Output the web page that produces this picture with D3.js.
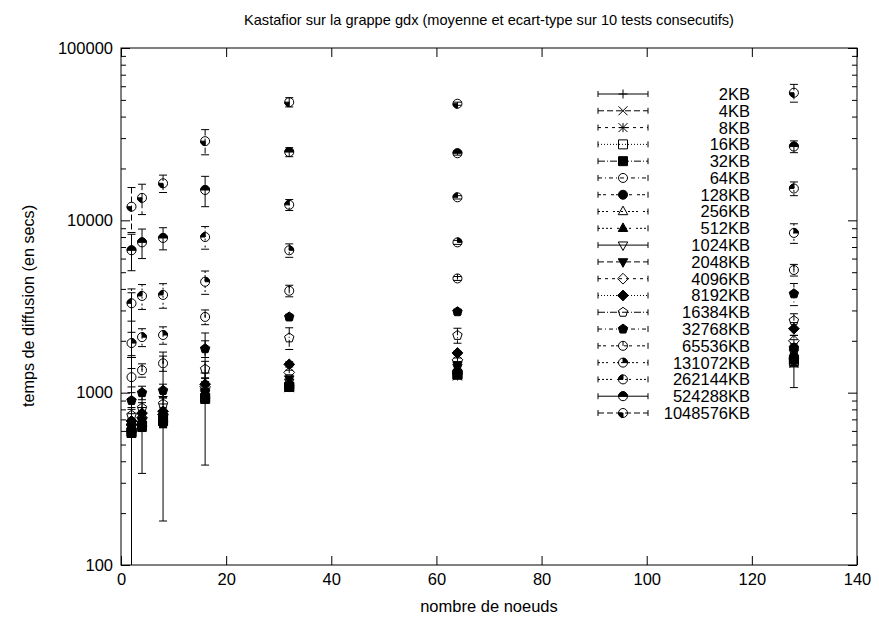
<!DOCTYPE html>
<html>
<head>
<meta charset="utf-8">
<script src="https://cdn.jsdelivr.net/npm/d3@7"></script>
<style>
  body { margin: 0; background: #fff; }
  svg { display: block; }
</style>
</head>
<body>
<svg width="879" height="617"></svg>
<script>
const FONT = "'Liberation Sans', Arial, Helvetica, sans-serif";

// Data
const nodes = [2, 4, 8, 16, 32, 64, 128];
const sizes = ["2KB", "4KB", "8KB", "16KB", "32KB", "64KB", "128KB", "256KB", "512KB",
  "1024KB", "2048KB", "4096KB", "8192KB", "16384KB", "32768KB", "65536KB",
  "131072KB", "262144KB", "524288KB", "1048576KB"];

// mean time per size (rows) and node count (columns)
const meanTimes = [
  [1600, 650, 950, 1300, 1080, 1250, 1550],
  [580, 630, 680, 920, 1070, 1250, 1480],
  [585, 635, 680, 920, 1070, 1260, 1500],
  [590, 640, 685, 930, 1080, 1270, 1520],
  [590, 645, 690, 930, 1080, 1280, 1560],
  [600, 650, 695, 940, 1100, 1300, 1600],
  [610, 660, 700, 950, 1100, 1320, 1820],
  [615, 665, 705, 960, 1110, 1330, 1620],
  [620, 670, 710, 970, 1120, 1350, 1650],
  [625, 680, 715, 985, 1150, 1400, 1700],
  [635, 690, 725, 1010, 1200, 1450, 1780],
  [650, 715, 745, 1080, 1310, 1550, 2000],
  [685, 760, 780, 1120, 1460, 1700, 2350],
  [740, 815, 860, 1370, 2080, 2150, 2620],
  [900, 1000, 1030, 1800, 2750, 2950, 3750],
  [1230, 1350, 1480, 2750, 3900, 4600, 5150],
  [1940, 2100, 2160, 4400, 6700, 7450, 8450],
  [3300, 3640, 3690, 8000, 12300, 13600, 15300],
  [6700, 7450, 7900, 15000, 24900, 24500, 26800],
  [12000, 13500, 16400, 28800, 48500, 47500, 55000]
];

// standard deviation, same layout
const stdTimes = [
  [2200, 310, 770, 920, 20, 20, 480],
  [30, 35, 50, 50, 25, 25, 70],
  [35, 40, 55, 55, 25, 30, 75],
  [35, 40, 55, 60, 30, 30, 80],
  [40, 45, 60, 60, 30, 30, 90],
  [40, 45, 60, 65, 30, 35, 90],
  [45, 45, 65, 65, 35, 35, 100],
  [45, 50, 65, 70, 35, 35, 100],
  [50, 50, 70, 70, 35, 40, 110],
  [50, 50, 70, 75, 40, 40, 110],
  [50, 50, 60, 70, 30, 30, 100],
  [60, 60, 70, 80, 40, 40, 150],
  [70, 60, 80, 90, 50, 40, 200],
  [80, 60, 70, 150, 300, 215, 250],
  [100, 90, 90, 200, 100, 100, 550],
  [150, 120, 150, 270, 300, 120, 400],
  [300, 250, 250, 680, 600, 200, 1100],
  [700, 600, 600, 1200, 900, 300, 1400],
  [1600, 1450, 1160, 3000, 1500, 600, 2100],
  [3500, 2700, 1900, 4800, 3000, 1000, 6500]
];

const xTicks = [0, 20, 40, 60, 80, 100, 120, 140];
const yTicks = [100, 1000, 10000, 100000];

const titleText = "Kastafior sur la grappe gdx (moyenne et ecart-type sur 10 tests consecutifs)";
const xLabel = "nombre de noeuds";
const yLabel = "temps de diffusion (en secs)";

// gnuplot-like dash cycle
const dashes = [null, "6,3", "3,4", "1,2", "7,2,1,2", "4,3,1,3", "3,2,3,5", "2,2,2,2,2,5", "2,2,2,2,2,2,2,5"];

const margin = { left: 121, right: 857, top: 48, bottom: 565 };

const svg = d3.select("svg").style("font-family", FONT);

const x = d3.scaleLinear().domain([0, 140]).range([margin.left, margin.right]);
const y = d3.scaleLog().domain([100, 100000]).range([margin.bottom, margin.top]);

const minorY = [];
for (let e = 100; e < 100000; e *= 10) for (let k = 2; k <= 9; k++) minorY.push(e * k);

// --- Axes ---
function styleAxis(g, size) {
  g.attr("font-family", FONT).attr("font-size", size);
  g.select(".domain").remove();
  g.selectAll("line").attr("stroke", "#000");
  g.selectAll("text").attr("fill", "#000");
}

svg.append("g")
  .attr("transform", `translate(0,${margin.bottom})`)
  .call(d3.axisBottom(x).tickValues(xTicks).tickSizeInner(-9).tickSizeOuter(0).tickPadding(8))
  .call(styleAxis, 16.5);

svg.append("g")
  .attr("transform", `translate(0,${margin.top})`)
  .call(d3.axisTop(x).tickValues(xTicks).tickSizeInner(-9).tickSizeOuter(0).tickFormat(""))
  .call(styleAxis, 16.5);

svg.append("g")
  .attr("transform", `translate(${margin.left},0)`)
  .call(d3.axisLeft(y).tickValues(yTicks).tickSizeInner(-9).tickSizeOuter(0).tickPadding(8).tickFormat(d3.format("d")))
  .call(styleAxis, 16.5);

svg.append("g")
  .attr("transform", `translate(${margin.left},0)`)
  .call(d3.axisLeft(y).tickValues(minorY).tickSizeInner(-5).tickSizeOuter(0).tickFormat(""))
  .call(styleAxis, 16.5);

svg.append("g")
  .attr("transform", `translate(${margin.right},0)`)
  .call(d3.axisRight(y).tickValues(yTicks).tickSizeInner(-9).tickSizeOuter(0).tickFormat(""))
  .call(styleAxis, 16.5);

svg.append("g")
  .attr("transform", `translate(${margin.right},0)`)
  .call(d3.axisRight(y).tickValues(minorY).tickSizeInner(-5).tickSizeOuter(0).tickFormat(""))
  .call(styleAxis, 16.5);

svg.append("rect")
  .attr("x", margin.left).attr("y", margin.top)
  .attr("width", margin.right - margin.left)
  .attr("height", margin.bottom - margin.top)
  .attr("fill", "none").attr("stroke", "#000").attr("stroke-width", 1);

// --- Titles ---
svg.append("text")
  .attr("x", 489).attr("y", 25)
  .attr("text-anchor", "middle").attr("font-size", 14.6)
  .text(titleText);

svg.append("text")
  .attr("x", 489).attr("y", 612)
  .attr("text-anchor", "middle").attr("font-size", 16.5)
  .text(xLabel);

svg.append("text")
  .attr("transform", "translate(34,306) rotate(-90)")
  .attr("text-anchor", "middle").attr("font-size", 16.2)
  .text(yLabel);

// --- Symbols (gnuplot point types 1..20) ---
function drawSymbol(g, t, r) {
  const k = t % 20;
  const line = (d) => g.append("path").attr("d", d).attr("fill", "none").attr("stroke", "#000").attr("stroke-width", 1);
  const fillP = (d) => g.append("path").attr("d", d).attr("fill", "#000").attr("stroke", "#000").attr("stroke-width", 1);
  const circle = `M${r},0A${r},${r} 0 1,1 ${-r},0A${r},${r} 0 1,1 ${r},0Z`;
  const box = `M${-r},${-r}H${r}V${r}H${-r}Z`;
  const tri = `M0,${-r * 1.2}L${r * 1.05},${r * 0.7}L${-r * 1.05},${r * 0.7}Z`;
  const triD = `M0,${r * 1.2}L${r * 1.05},${-r * 0.7}L${-r * 1.05},${-r * 0.7}Z`;
  const dia = `M0,${-r * 1.2}L${r * 1.2},0L0,${r * 1.2}L${-r * 1.2},0Z`;
  const pent = d3.range(5).map((i) => {
    const a = -Math.PI / 2 + i * 2 * Math.PI / 5;
    return [Math.cos(a) * r * 1.1, Math.sin(a) * r * 1.1];
  });
  const pentP = "M" + pent.map((p) => p.join(",")).join("L") + "Z";
  const wedge = (a0, a1) => d3.arc().innerRadius(0).outerRadius(r)({ startAngle: a0, endAngle: a1 });
  switch (k) {
    case 0: line(`M${-r},0H${r}M0,${-r}V${r}`); break;
    case 1: line(`M${-r},${-r}L${r},${r}M${-r},${r}L${r},${-r}`); break;
    case 2: line(`M${-r},0H${r}M0,${-r}V${r}M${-r},${-r}L${r},${r}M${-r},${r}L${r},${-r}`); break;
    case 3: line(box); break;
    case 4: fillP(box); break;
    case 5: line(circle); break;
    case 6: fillP(circle); break;
    case 7: line(tri); break;
    case 8: fillP(tri); break;
    case 9: line(triD); break;
    case 10: fillP(triD); break;
    case 11: line(dia); break;
    case 12: fillP(dia); break;
    case 13: line(pentP); break;
    case 14: fillP(pentP); break;
    case 15: line(circle + `M0,0V${-r}`); break;
    case 16: fillP(wedge(0, Math.PI / 2)); line(circle); break;
    case 17: fillP(wedge(-Math.PI / 2, 0)); line(circle); break;
    case 18: fillP(wedge(-Math.PI / 2, Math.PI / 2)); line(circle); break;
    case 19: fillP(wedge(Math.PI, 1.5 * Math.PI)); line(circle); break;
  }
}

// --- Series ---
const plot = svg.append("g");
const capW = 4;
const yMin = y.domain()[0];

sizes.forEach((name, i) => {
  const dash = dashes[i % 9];
  const g = plot.append("g").attr("class", "series");
  nodes.forEach((n, j) => {
    const m = meanTimes[i][j];
    const s = stdTimes[i][j];
    const px = x(n);
    const hi = m + s;
    const lo = m - s;
    const yHi = y(hi);
    const yLo = lo > yMin ? y(lo) : margin.bottom;
    g.append("line")
      .attr("x1", px).attr("x2", px).attr("y1", yHi).attr("y2", yLo)
      .attr("stroke", "#000").attr("stroke-width", 1)
      .attr("stroke-dasharray", dash);
    g.append("line")
      .attr("x1", px - capW).attr("x2", px + capW).attr("y1", yHi).attr("y2", yHi)
      .attr("stroke", "#000").attr("stroke-width", 1);
    if (lo > yMin) {
      g.append("line")
        .attr("x1", px - capW).attr("x2", px + capW).attr("y1", yLo).attr("y2", yLo)
        .attr("stroke", "#000").attr("stroke-width", 1);
    }
    const pg = g.append("g").attr("transform", `translate(${px},${y(m)})`);
    drawSymbol(pg, i, 4.5);
  });
});

// --- Legend ---
const legend = svg.append("g");
const rowY = d3.scaleLinear().domain([0, sizes.length - 1]).range([94, 413]);
sizes.forEach((name, i) => {
  const ly = rowY(i);
  const dash = dashes[i % 9];
  legend.append("line")
    .attr("x1", 598).attr("x2", 648).attr("y1", ly).attr("y2", ly)
    .attr("stroke", "#000").attr("stroke-width", 1)
    .attr("stroke-dasharray", dash);
  legend.append("path")
    .attr("d", `M598,${ly - 3}V${ly + 3}M648,${ly - 3}V${ly + 3}`)
    .attr("stroke", "#000").attr("stroke-width", 1);
  const pg = legend.append("g").attr("transform", `translate(623,${ly})`);
  drawSymbol(pg, i, 4.5);
  legend.append("text")
    .attr("x", 750).attr("y", ly).attr("dy", "0.36em")
    .attr("text-anchor", "end").attr("font-size", 16.5)
    .text(name);
});
</script>
</body>
</html>
